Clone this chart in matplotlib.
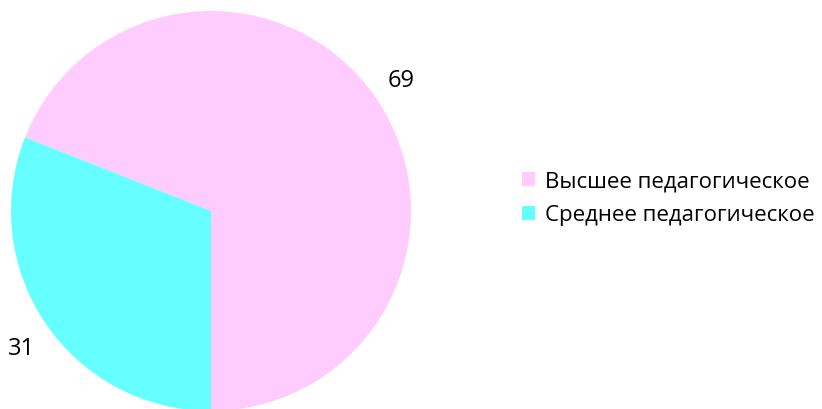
import numpy as np
import matplotlib.pyplot as plt

categories = ['Высшее педагогическое', 'Среднее педагогическое']
values = [69, 31]
colors = ['#FFCCFF', '#66FFFF']

plt.rcParams['font.family'] = ['Open Sans', 'DejaVu Sans']

fig = plt.figure(figsize=(8.22, 4.10), dpi=100)
ax = fig.add_axes([11 / 822, -2 / 410, 400 / 822, 400 / 410])
wedges, _ = ax.pie(values, colors=colors, startangle=-90, counterclock=True, radius=1.0)

# value labels just outside each slice
label_dist = [1.155, 1.17]
label_shift = [0.3, 1.6]
for w, v, d, s in zip(wedges, values, label_dist, label_shift):
    ang = np.deg2rad((w.theta1 + w.theta2) / 2 + s)
    ax.text(d * np.cos(ang), d * np.sin(ang), str(v), ha='center', va='center',
            fontsize=17)
ax.set_xlim(-1, 1)
ax.set_ylim(-1, 1)
ax.set_aspect('equal')
ax.axis('off')

fig.legend(wedges, categories, loc='center left', bbox_to_anchor=(522 / 822, 1 - 199 / 410),
           frameon=False, fontsize=16, handlelength=0.59, handleheight=0.59,
           handletextpad=0.45, labelspacing=0.58, borderpad=0, borderaxespad=0)

fig.savefig('out.png', dpi=100)
